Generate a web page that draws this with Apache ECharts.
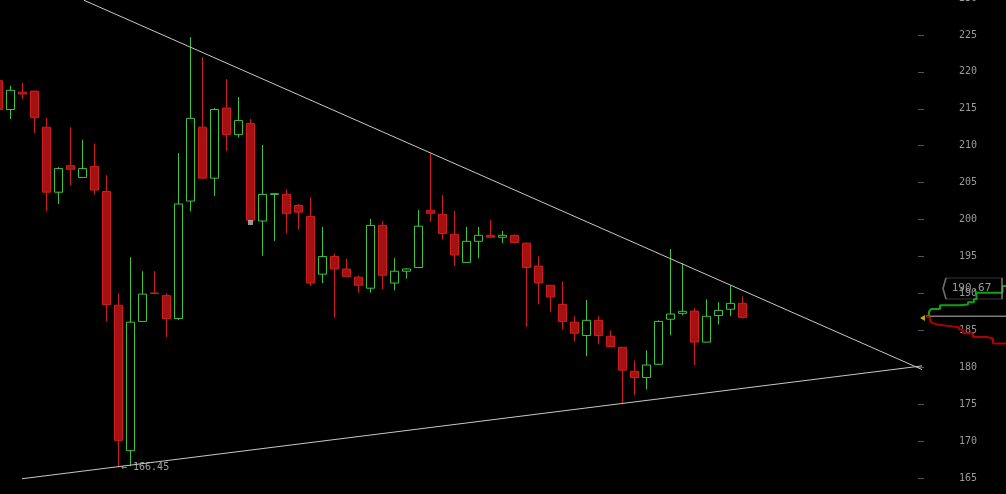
<!DOCTYPE html>
<html><head><meta charset="utf-8">
<style>html,body{margin:0;padding:0;background:#000;}#c{width:1006px;height:494px;}</style>
<script src="https://cdn.jsdelivr.net/npm/echarts@6/dist/echarts.min.js"></script>
</head><body><div id="c"></div>
<script>
// 78 time slots (63 candles + empty space to the right)
const categories = Array.from({length: 78}, (_, i) => 'S' + (i + 1));
const opens  = [218.8,214.9,217.25,217.4,212.5,203.7,207.3,205.7,207.2,203.8,188.4,168.7,186.2,190.05,189.7,186.6,202.5,212.5,205.6,215.1,211.5,213.0,199.8,203.4,203.4,201.9,200.4,192.6,195.0,193.3,192.2,190.7,199.2,191.4,193.0,193.5,201.25,200.7,198.0,194.2,197.05,197.86,197.6,197.86,196.8,193.7,191.1,188.5,186.1,184.3,186.35,184.2,182.7,179.45,178.6,180.4,186.5,187.3,187.6,183.4,187.0,187.85,188.65];
const closes = [214.9,217.5,217.0,213.8,203.7,206.9,206.8,206.9,204.0,188.5,170.1,186.1,189.9,190.0,186.6,202.1,213.7,205.6,214.9,211.5,213.4,199.9,203.4,203.5,200.8,201.0,191.4,195.0,193.3,192.3,191.1,199.2,192.45,193.0,193.3,199.1,200.85,198.1,195.2,197.05,197.86,197.6,197.86,196.9,193.5,191.4,189.5,186.2,184.6,186.35,184.3,182.8,179.6,178.6,180.3,186.2,187.2,187.57,183.4,186.9,187.7,188.65,186.75];
const lows   = [214.3,213.6,216.3,211.7,201.1,202.1,204.6,205.7,203.4,186.2,166.45,166.6,186.2,190.0,184.1,186.4,201.1,205.6,203.2,209.3,211.1,199.9,195.1,197.1,198.1,198.6,191.0,191.4,186.7,192.3,190.1,190.1,190.6,190.4,192.0,193.5,199.7,197.3,193.7,194.2,194.75,197.6,196.8,196.9,185.5,188.5,187.5,185.1,183.5,181.5,183.1,182.8,175.1,176.2,177.0,180.3,184.3,187.0,180.3,183.4,185.8,186.9,186.6];
const highs  = [219.4,218.1,218.5,217.4,213.75,207.1,212.5,210.8,210.3,206.0,190.0,194.9,193.0,193.0,190.0,209.0,224.7,222.0,215.1,219.0,216.6,213.6,210.1,203.55,204.1,202.1,203.0,199.0,195.4,194.7,192.45,200.1,199.8,194.8,193.4,201.3,209.05,203.3,201.15,199.0,199.0,199.9,198.45,198.0,196.9,195.0,191.1,191.6,186.9,189.1,186.9,185.0,182.7,180.9,182.3,186.35,196.0,194.1,188.0,189.2,188.8,191.1,189.6];
const yTicks = [165,170,175,180,185,190,195,200,205,210,215,220,225,230];
// trend lines [slot position, price]
const upperTrend = [[7.125, 229.69], [76.96, 179.69]];
const lowerTrend = [[1.958, 164.90], [76.96, 180.18]];
// grey marker under a candle
const markerPoint = [[21, 199.6]];
// order-book depth (depth, price)
const bidDepth = [[0,186.9],[1,187.1],[3,187.5],[5,187.9],[14,188.4],[34,188.5],[42,188.8],[48,189.2],[50.5,190.1],[76.5,191.0],[80,191.0]];
const askDepth = [[0,186.9],[1,186.7],[4,186.3],[6,186.0],[8,185.8],[11,185.6],[22,185.4],[33,185.1],[37,184.6],[47,184.1],[61,183.9],[67,183.2],[80,183.2]];
const currentLevel = [[0,186.9],[80,186.9]];
const pointerLevel = [[-3.5, 186.67]];
const lastPrice = 190.67;

const candleData = opens.map((o, i) => [o, closes[i], lows[i], highs[i]]);
let minIdx = 0;
lows.forEach((v, i) => { if (v < lows[minIdx]) minIdx = i; });
const mono = 'DejaVu Sans Mono';

const chart = echarts.init(document.getElementById('c'));
chart.setOption({
  backgroundColor: '#000',
  animation: false,
  grid: [
    {left: -7.5, top: -2, width: 936, bottom: 16, outerBoundsMode: 'none'},
    {left: 926, top: -2, width: 80, bottom: 16, outerBoundsMode: 'none'}
  ],
  xAxis: [
    {type: 'category', gridIndex: 0, data: categories, show: false, boundaryGap: true},
    {type: 'value', gridIndex: 0, min: -0.5, max: categories.length - 0.5, show: false},
    {type: 'value', gridIndex: 1, min: 0, max: 80, show: false}
  ],
  yAxis: [
    {type: 'value', gridIndex: 0, position: 'right', offset: -10.5,
     min: yTicks[0], max: yTicks[yTicks.length - 1], interval: 5,
     axisLine: {show: false, onZero: false}, splitLine: {show: false},
     axisTick: {show: true, length: 6, lineStyle: {color: '#555'}},
     axisLabel: {show: true, margin: 41, color: '#9a9a9a', fontFamily: mono, fontSize: 10,
                 showMinLabel: true, showMaxLabel: true}},
    {type: 'value', gridIndex: 1, min: yTicks[0], max: yTicks[yTicks.length - 1], show: false,
     axisLine: {onZero: false}}
  ],
  series: [
    {type: 'candlestick', xAxisIndex: 0, yAxisIndex: 0, data: candleData, barWidth: 8,
     itemStyle: {color: '#000', color0: '#a31212', borderColor: '#3dc43d', borderColor0: '#d11d1d', borderWidth: 1}},
    {type: 'scatter', xAxisIndex: 0, yAxisIndex: 0, data: markerPoint, symbol: 'rect', symbolSize: 5,
     itemStyle: {color: '#bdbdbd'}, z: 4},
    {type: 'scatter', xAxisIndex: 0, yAxisIndex: 0, data: [[minIdx, lows[minIdx]]], symbolSize: 1,
     itemStyle: {color: 'rgba(0,0,0,0)'}, clip: false, z: 6,
     label: {show: true, position: 'right', distance: 2, formatter: () => '\u2190 ' + lows[minIdx].toFixed(2),
             color: '#c8c8c8', fontFamily: mono, fontSize: 10}},
    {type: 'line', xAxisIndex: 1, yAxisIndex: 0, data: upperTrend, showSymbol: false, clip: false,
     lineStyle: {color: '#c8c8c8', width: 1}, z: 5},
    {type: 'line', xAxisIndex: 1, yAxisIndex: 0, data: lowerTrend, showSymbol: false, clip: false,
     lineStyle: {color: '#c8c8c8', width: 1}, z: 5},
    {type: 'line', xAxisIndex: 2, yAxisIndex: 1, data: currentLevel, showSymbol: false, clip: false,
     lineStyle: {color: '#7a7a7a', width: 1.5}},
    {type: 'line', xAxisIndex: 2, yAxisIndex: 1, data: bidDepth, step: 'end', showSymbol: false, clip: false,
     lineStyle: {color: '#12a012', width: 2}},
    {type: 'line', xAxisIndex: 2, yAxisIndex: 1, data: askDepth, step: 'end', showSymbol: false, clip: false,
     lineStyle: {color: '#b00000', width: 2}},
    {type: 'scatter', xAxisIndex: 2, yAxisIndex: 1, data: pointerLevel, symbol: 'triangle', symbolRotate: 90,
     symbolSize: [6, 5], clip: false, itemStyle: {color: '#e0dc00'}},
    {type: 'scatter', xAxisIndex: 2, yAxisIndex: 1, data: [[46.5, lastPrice]], clip: false,
     symbol: 'path://M3,0 L59,0 L59,21 L3,21 L0,10.5 Z', symbolSize: [59, 21],
     itemStyle: {color: 'rgba(0,0,0,0)', borderColor: '#8a8a8a', borderWidth: 1},
     label: {show: true, position: 'inside', formatter: () => lastPrice.toFixed(2), color: '#bdbdbd',
             fontFamily: mono, fontSize: 11, offset: [-1, 0]}, z: 10}
  ]
});
</script></body></html>
